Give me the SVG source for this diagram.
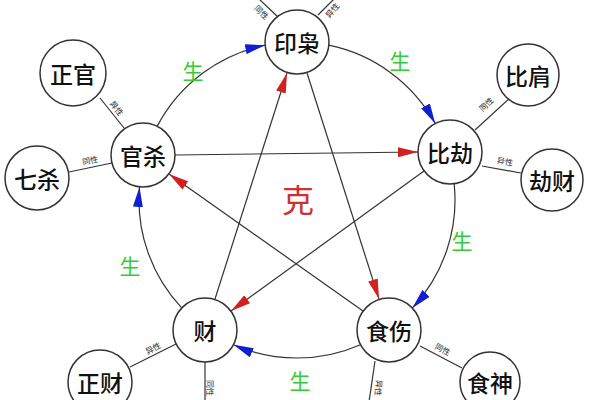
<svg xmlns="http://www.w3.org/2000/svg" width="600" height="400" viewBox="0 0 600 400">
<style>
.n{fill:#fff;stroke:#333;stroke-width:1.5}
.t{font-family:"Noto Sans CJK SC",sans-serif;font-size:23px;font-weight:500;fill:#111;text-anchor:middle;dominant-baseline:central}
.s{font-family:"Noto Sans CJK SC",sans-serif;font-size:8px;fill:#222;text-anchor:middle;dominant-baseline:central}
.g{font-family:"Noto Sans CJK SC",sans-serif;font-size:21px;fill:#33cc33;text-anchor:middle;dominant-baseline:central}
.sat{stroke:#333;stroke-width:1.2}
.arc{fill:none;stroke:#333;stroke-width:1.2;marker-end:url(#b)}
.st{stroke:#333;stroke-width:1.2;marker-end:url(#r)}
</style>
<defs>
<marker id="b" viewBox="0 0 20 10" refX="20" refY="5" markerWidth="20" markerHeight="10" markerUnits="userSpaceOnUse" orient="auto"><path d="M0,0L20,5L0,10z" fill="#1020d0"/></marker>
<marker id="r" viewBox="0 0 20 10" refX="20" refY="5" markerWidth="20" markerHeight="10" markerUnits="userSpaceOnUse" orient="auto"><path d="M0,0L20,5L0,10z" fill="#d02020"/></marker>
</defs>
<rect width="600" height="400" fill="#fff"/>
<g id="connectors">
<path class="arc" d="M328.8,45.2A158,158 0 0 1 435.2,123.4"/>
<path class="arc" d="M454.2,184A158,158 0 0 1 412.4,307.9"/>
<path class="arc" d="M360.5,344.7A158,158 0 0 1 233.5,344.7"/>
<path class="arc" d="M181.7,307.9A158,158 0 0 1 139.5,187"/>
<path class="arc" d="M157.3,126.1A158,158 0 0 1 265.2,45.2"/>
<line class="st" x1="175" y1="155" x2="418" y2="152"/>
<line class="st" x1="424" y1="171" x2="231" y2="311"/>
<line class="st" x1="215" y1="299" x2="287" y2="73"/>
<line class="st" x1="307" y1="73" x2="379" y2="299"/>
<line class="st" x1="363" y1="311" x2="169" y2="174"/>
<line class="sat" x1="278" y1="17" x2="258" y2="-2"/>
<line class="sat" x1="318" y1="15" x2="335" y2="-2"/>
<line class="sat" x1="100" y1="98" x2="124" y2="128"/>
<line class="sat" x1="69" y1="172" x2="112" y2="163"/>
<line class="sat" x1="510" y1="98" x2="475" y2="130"/>
<line class="sat" x1="482" y1="166" x2="521" y2="173"/>
<line class="sat" x1="130" y1="367" x2="176" y2="344"/>
<line class="sat" x1="420" y1="346" x2="462" y2="368"/>
<line class="sat" x1="205" y1="362" x2="205" y2="402"/>
<line class="sat" x1="375" y1="361" x2="369" y2="402"/>
<text class="s" transform="translate(262,12) rotate(45)">同性</text>
<text class="s" transform="translate(332,10) rotate(-50)">异性</text>
<text class="s" transform="translate(117,108) rotate(52)">异性</text>
<text class="s" transform="translate(90,160) rotate(-12)">同性</text>
<text class="s" transform="translate(486,104) rotate(-42)">同性</text>
<text class="s" transform="translate(505,161) rotate(10)">异性</text>
<text class="s" transform="translate(153,348) rotate(-27)">异性</text>
<text class="s" transform="translate(443,349) rotate(28)">同性</text>
<text class="s" transform="translate(210,388) rotate(90)">同性</text>
<text class="s" transform="translate(379,388) rotate(95)">异性</text>
</g>
<text x="298" y="198" font-family="Noto Sans CJK SC,sans-serif" font-size="32" fill="#d03030" text-anchor="middle" dominant-baseline="central">克</text>
<text class="g" x="193" y="70">生</text>
<text class="g" x="400" y="60">生</text>
<text class="g" x="462" y="240">生</text>
<text class="g" x="300" y="380">生</text>
<text class="g" x="130" y="265">生</text>
<g id="yinxiao"><circle class="n" cx="297" cy="42" r="32"/><text class="t" x="297" y="42">印枭</text></g>
<g id="bijie"><circle class="n" cx="450" cy="152" r="32"/><text class="t" x="450" y="152">比劫</text></g>
<g id="shishang"><circle class="n" cx="389" cy="330" r="32"/><text class="t" x="389" y="330">食伤</text></g>
<g id="cai"><circle class="n" cx="205" cy="330" r="32"/><text class="t" x="205" y="330">财</text></g>
<g id="guansha"><circle class="n" cx="143" cy="155" r="32"/><text class="t" x="143" y="155">官杀</text></g>
<g id="zhengguan"><circle class="n" cx="73" cy="73" r="33"/><text class="t" x="73" y="73">正官</text></g>
<g id="qisha"><circle class="n" cx="37" cy="178" r="32"/><text class="t" x="37" y="178">七杀</text></g>
<g id="bijian"><circle class="n" cx="528" cy="75" r="31"/><text class="t" x="528" y="75">比肩</text></g>
<g id="jiecai"><circle class="n" cx="552" cy="180" r="31"/><text class="t" x="552" y="180">劫财</text></g>
<g id="zhengcai"><circle class="n" cx="100" cy="382" r="32"/><text class="t" x="100" y="382">正财</text></g>
<g id="shishen"><circle class="n" cx="490" cy="382" r="30"/><text class="t" x="490" y="382">食神</text></g>
</svg>
